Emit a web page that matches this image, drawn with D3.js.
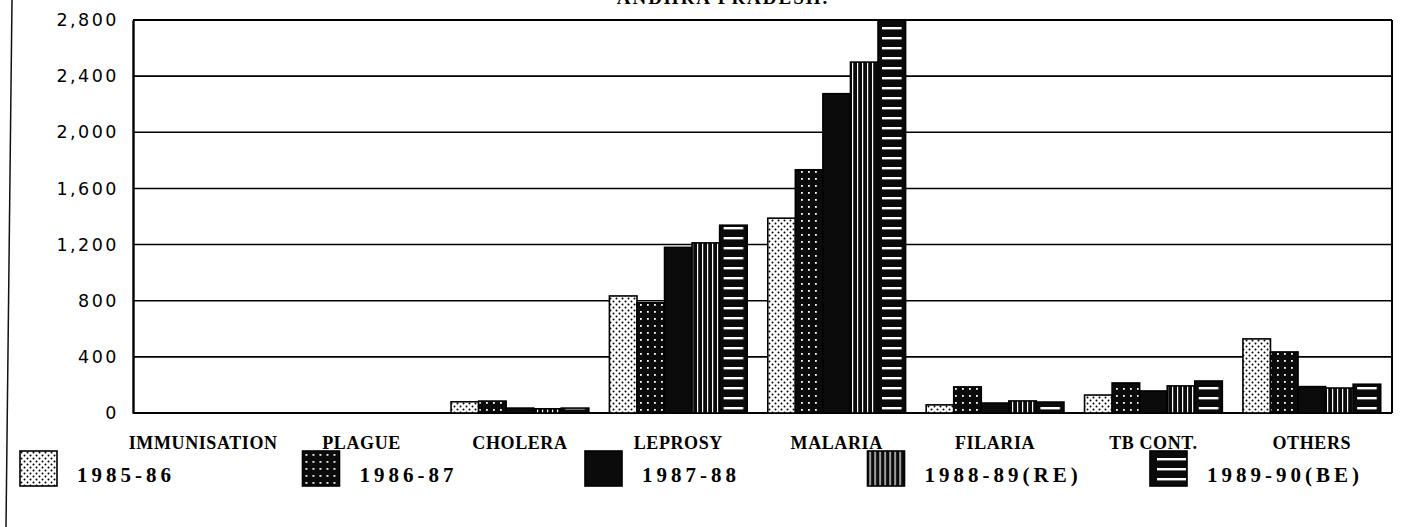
<!DOCTYPE html>
<html>
<head>
<meta charset="utf-8">
<script src="https://cdn.jsdelivr.net/npm/d3@7"></script>
<style>
	body { margin: 0; background: #fff; }
	svg { display: block; }
	.tick-label { font-family: "DejaVu Sans", sans-serif; font-size: 17.5px; letter-spacing: 2.5px; }
	.cat-label { font-family: "Liberation Serif", serif; font-weight: bold; font-size: 18px; letter-spacing: 0.6px; }
	.legend-label { font-family: "Liberation Serif", serif; font-weight: bold; font-size: 21px; letter-spacing: 4px; }
	.title { font-family: "Liberation Serif", serif; font-weight: bold; font-size: 19px; letter-spacing: 2px; }
</style>
</head>
<body>
<svg id="chart"></svg>
<script>
let width = 1417, height = 527;
let plotLeft = 133, plotRight = 1392, plotTop = 20, plotBottom = 413;

let categories = ['IMMUNISATION', 'PLAGUE', 'CHOLERA', 'LEPROSY', 'MALARIA', 'FILARIA', 'TB CONT.', 'OTHERS'];
let years = ['1985-86', '1986-87', '1987-88', '1988-89(RE)', '1989-90(BE)'];

// one array per year, same order as categories
let y1985 = [0, 0, 80, 834, 1388, 58, 128, 528];
let y1986 = [0, 0, 85, 785, 1733, 186, 214, 435];
let y1987 = [0, 0, 35, 1180, 2275, 71, 157, 188];
let y1988 = [0, 0, 30, 1212, 2500, 86, 193, 178];
let y1989 = [0, 0, 35, 1338, 2800, 78, 228, 205];
let yTicks = [0, 400, 800, 1200, 1600, 2000, 2400, 2800];

let seriesValues = [y1985, y1986, y1987, y1988, y1989];
let fills = ['url(#dots)', 'url(#grid)', '#0b0b0b', 'url(#vstripe)', 'url(#hstripe)'];
let legendFills = ['url(#dots)', 'url(#grid)', '#0b0b0b', 'url(#vstripe)', 'url(#hstripeLegend)'];

let xScale, xSub, yScale, svg;

function makeChart() {
	svg = d3.select('#chart')
		.attr('width', width)
		.attr('height', height);

	xScale = d3.scaleBand()
		.domain(categories)
		.range([124, 1391])
		.paddingInner(0.13)
		.paddingOuter(0.065);

	xSub = d3.scaleBand()
		.domain(years)
		.range([0, xScale.bandwidth()]);

	yScale = d3.scaleLinear()
		.domain([0, 2800])
		.range([plotBottom, plotTop]);

	makePatterns();

	// scanned page edge
	svg.append('line')
		.attr('x1', 12).attr('y1', 0)
		.attr('x2', 6).attr('y2', height)
		.attr('stroke', '#111')
		.attr('stroke-width', 1.5);

	// title, cut off by the scan like in the original
	svg.append('text')
		.attr('class', 'title')
		.attr('x', 723)
		.attr('y', 4)
		.style('text-anchor', 'middle')
		.text('ANDHRA PRADESH.');

	// gridlines
	svg.append('g')
		.selectAll('line')
		.data(yTicks)
		.enter()
		.append('line')
		.attr('x1', plotLeft)
		.attr('x2', plotRight)
		.attr('y1', d => yScale(d))
		.attr('y2', d => yScale(d))
		.attr('stroke', '#000')
		.attr('stroke-width', d => (d == 0 || d == 2800) ? 2.2 : 1.6);

	svg.append('line')
		.attr('x1', plotRight).attr('x2', plotRight)
		.attr('y1', plotTop).attr('y2', plotBottom)
		.attr('stroke', '#000')
		.attr('stroke-width', 2);

	// AXES
	let yAxis = d3.axisLeft(yScale)
		.tickValues(yTicks)
		.tickFormat(d3.format(','))
		.tickSize(0)
		.tickPadding(14);

	let yAxisGroup = svg.append('g')
		.attr('transform', `translate(${plotLeft},0)`)
		.call(yAxis);
	yAxisGroup.select('.domain')
		.attr('stroke', '#000')
		.attr('stroke-width', 2.4);
	yAxisGroup.selectAll('text')
		.attr('class', 'tick-label')
		.attr('fill', '#000')
		.attr('font-size', null)
		.attr('font-family', null);

	// BARS
	let groups = svg.append('g')
		.selectAll('g')
		.data(seriesValues)
		.enter()
		.append('g')
		.attr('fill', (d, i) => fills[i]);

	groups.selectAll('rect')
		.data((d, i) => d.map((v, k) => ({ cat: categories[k], year: years[i], value: v })))
		.enter()
		.filter(d => d.value > 0)
		.append('rect')
		.attr('x', d => xScale(d.cat) + xSub(d.year))
		.attr('y', d => yScale(d.value))
		.attr('width', xSub.bandwidth())
		.attr('height', d => plotBottom - yScale(d.value))
		.attr('stroke', '#000')
		.attr('stroke-width', 1.6);

	// category labels
	svg.append('g')
		.selectAll('text')
		.data(categories)
		.enter()
		.append('text')
		.attr('class', 'cat-label')
		.attr('x', d => xScale(d) + xScale.bandwidth() / 2)
		.attr('y', 449)
		.style('text-anchor', 'middle')
		.text(d => d);

	// LEGEND
	let legend = svg.append('g')
		.selectAll('g')
		.data(years)
		.enter()
		.append('g')
		.attr('transform', (d, i) => `translate(${20 + i * 282.5}, 451)`);

	legend.append('rect')
		.attr('width', 37)
		.attr('height', 35)
		.attr('fill', (d, i) => legendFills[i])
		.attr('stroke', '#000')
		.attr('stroke-width', 1.6);

	legend.append('text')
		.attr('class', 'legend-label')
		.attr('x', 57)
		.attr('y', 31)
		.text(d => d);
}

function makePatterns() {
	let defs = svg.append('defs');

	// 1985-86: white with black stipple
	let dots = defs.append('pattern')
		.attr('id', 'dots')
		.attr('patternUnits', 'userSpaceOnUse')
		.attr('width', 6).attr('height', 6);
	dots.append('rect').attr('width', 6).attr('height', 6).attr('fill', '#fff');
	dots.append('circle').attr('cx', 1.5).attr('cy', 1.5).attr('r', 1).attr('fill', '#000');
	dots.append('circle').attr('cx', 4.5).attr('cy', 4.5).attr('r', 1).attr('fill', '#000');

	// 1986-87: black with white dot grid
	let grid = defs.append('pattern')
		.attr('id', 'grid')
		.attr('patternUnits', 'userSpaceOnUse')
		.attr('width', 7).attr('height', 7);
	grid.append('rect').attr('width', 7).attr('height', 7).attr('fill', '#0b0b0b');
	grid.append('rect').attr('x', 3).attr('y', 3).attr('width', 1.8).attr('height', 1.8).attr('fill', '#fff');

	// 1988-89: vertical white hairlines
	let vstripe = defs.append('pattern')
		.attr('id', 'vstripe')
		.attr('patternUnits', 'userSpaceOnUse')
		.attr('width', 5).attr('height', 5);
	vstripe.append('rect').attr('width', 5).attr('height', 5).attr('fill', '#0b0b0b');
	vstripe.append('rect').attr('x', 2).attr('width', 1.2).attr('height', 5).attr('fill', '#fff');

	// 1989-90: white horizontal dashes inset from the bar sides
	let bw = xSub.bandwidth();
	let hstripe = defs.append('pattern')
		.attr('id', 'hstripe')
		.attr('patternUnits', 'userSpaceOnUse')
		.attr('x', xScale(categories[0]) + xSub(years[4]))
		.attr('y', plotBottom)
		.attr('width', xScale.step())
		.attr('height', 10);
	hstripe.append('rect').attr('width', xScale.step()).attr('height', 10).attr('fill', '#0b0b0b');
	hstripe.append('rect').attr('x', 4).attr('y', 4).attr('width', bw - 8).attr('height', 2.4).attr('fill', '#fff');

	let hsLegend = defs.append('pattern')
		.attr('id', 'hstripeLegend')
		.attr('patternUnits', 'userSpaceOnUse')
		.attr('x', 20 + 4 * 282.5)
		.attr('y', 451)
		.attr('width', 37)
		.attr('height', 10);
	hsLegend.append('rect').attr('width', 37).attr('height', 10).attr('fill', '#0b0b0b');
	hsLegend.append('rect').attr('x', 4).attr('y', 6).attr('width', 29).attr('height', 2.4).attr('fill', '#fff');
}

makeChart();
</script>
</body>
</html>
